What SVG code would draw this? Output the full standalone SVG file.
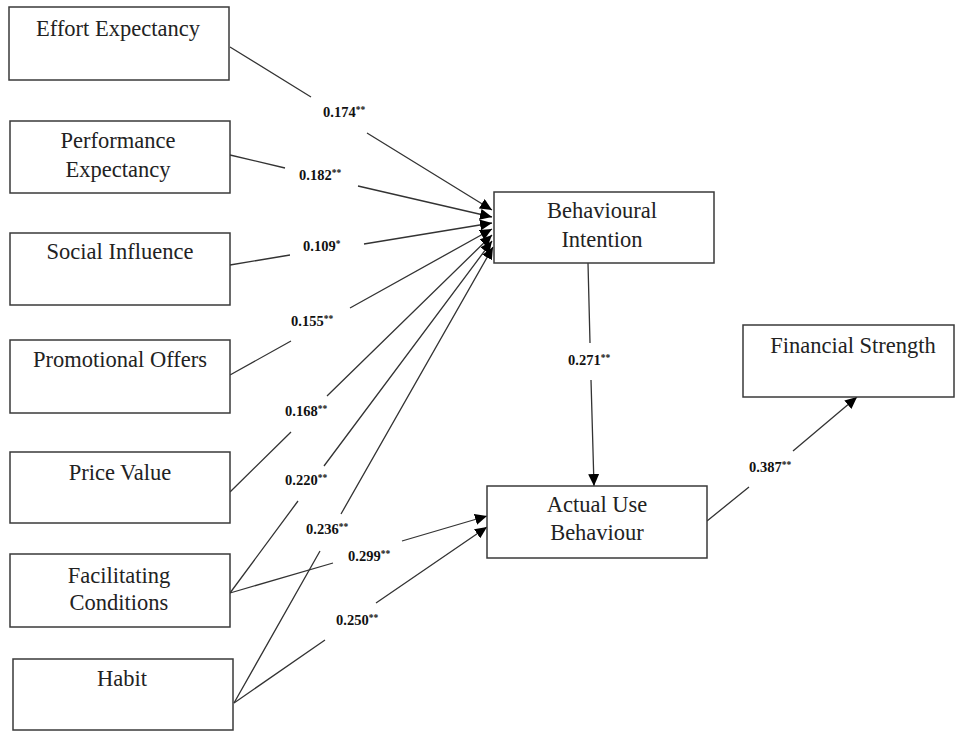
<svg xmlns="http://www.w3.org/2000/svg" width="956" height="731" viewBox="0 0 956 731">
<defs>
<marker id="ah" markerWidth="13" markerHeight="11" refX="12" refY="5.5" orient="auto" markerUnits="userSpaceOnUse">
<path d="M0,0 L12,5.5 L0,11 Z" fill="#000"/>
</marker>
<style>
.box{fill:#fff;stroke:#3a3a3a;stroke-width:1.5}
.t{font-family:"Liberation Serif","Times New Roman",serif;font-size:22.5px;fill:#222;text-anchor:middle}
.c{fill:none;stroke:#333;stroke-width:1.3;marker-end:url(#ah)}
.l{font-family:"Liberation Serif","Times New Roman",serif;font-size:14.5px;font-weight:bold;fill:#111}
.s{font-size:9.5px}
</style>
</defs>
<rect width="956" height="731" fill="#fff"/>
<g id="connectors">
<path class="c" d="M230,47 L311,97 M367,133 L492,210"/>
<path class="c" d="M230,155 L285,168 M358,186 L492,217"/>
<path class="c" d="M230,265 L290,255 M364,244 L492,223"/>
<path class="c" d="M230,375 L291,341 M350,308 L492,229"/>
<path class="c" d="M230,492 L291,432 M327,396 L492,235"/>
<path class="c" d="M230,593 L298,501 M324,466 L492,241"/>
<path class="c" d="M234,703 L320,551 M341,514 L493,247"/>
<path class="c" d="M230,593 L333,563 M402,541 L487,516"/>
<path class="c" d="M234,703 L325,640 M376,603 L487,527"/>
<path class="c" d="M588,263 L590,343 M591,380 L594,486"/>
<path class="c" d="M707,521 L749,487 M793,451 L857,397"/>
<text class="l" x="323" y="117">0.174<tspan class="s" dy="-4">**</tspan></text>
<text class="l" x="299" y="180">0.182<tspan class="s" dy="-4">**</tspan></text>
<text class="l" x="303" y="251">0.109<tspan class="s" dy="-4">*</tspan></text>
<text class="l" x="291" y="326">0.155<tspan class="s" dy="-4">**</tspan></text>
<text class="l" x="285" y="416">0.168<tspan class="s" dy="-4">**</tspan></text>
<text class="l" x="285" y="485">0.220<tspan class="s" dy="-4">**</tspan></text>
<text class="l" x="306" y="534">0.236<tspan class="s" dy="-4">**</tspan></text>
<text class="l" x="348" y="561">0.299<tspan class="s" dy="-4">**</tspan></text>
<text class="l" x="336" y="625">0.250<tspan class="s" dy="-4">**</tspan></text>
<text class="l" x="568" y="365">0.271<tspan class="s" dy="-4">**</tspan></text>
<text class="l" x="749" y="472">0.387<tspan class="s" dy="-4">**</tspan></text>
</g>
<g id="effort-expectancy">
<rect class="box" x="9" y="7" width="220" height="73"/>
<text class="t" x="118" y="36">Effort Expectancy</text>
</g>
<g id="performance-expectancy">
<rect class="box" x="10" y="121" width="220" height="72"/>
<text class="t" x="118" y="148">Performance</text>
<text class="t" x="118" y="177">Expectancy</text>
</g>
<g id="social-influence">
<rect class="box" x="10" y="233" width="220" height="72"/>
<text class="t" x="120" y="259">Social Influence</text>
</g>
<g id="promotional-offers">
<rect class="box" x="10" y="340" width="220" height="73"/>
<text class="t" x="120" y="367">Promotional Offers</text>
</g>
<g id="price-value">
<rect class="box" x="10" y="452" width="220" height="71"/>
<text class="t" x="120" y="480">Price Value</text>
</g>
<g id="facilitating-conditions">
<rect class="box" x="10" y="554" width="220" height="73"/>
<text class="t" x="119" y="583">Facilitating</text>
<text class="t" x="119" y="610">Conditions</text>
</g>
<g id="habit">
<rect class="box" x="13" y="659" width="220" height="71"/>
<text class="t" x="122" y="686">Habit</text>
</g>
<g id="behavioural-intention">
<rect class="box" x="494" y="192" width="220" height="71"/>
<text class="t" x="602" y="218">Behavioural</text>
<text class="t" x="602" y="247">Intention</text>
</g>
<g id="actual-use-behaviour">
<rect class="box" x="487" y="486" width="220" height="72"/>
<text class="t" x="597" y="512">Actual Use</text>
<text class="t" x="597" y="540">Behaviour</text>
</g>
<g id="financial-strength">
<rect class="box" x="743" y="325" width="211" height="72"/>
<text class="t" x="853" y="353">Financial Strength</text>
</g>
</svg>
